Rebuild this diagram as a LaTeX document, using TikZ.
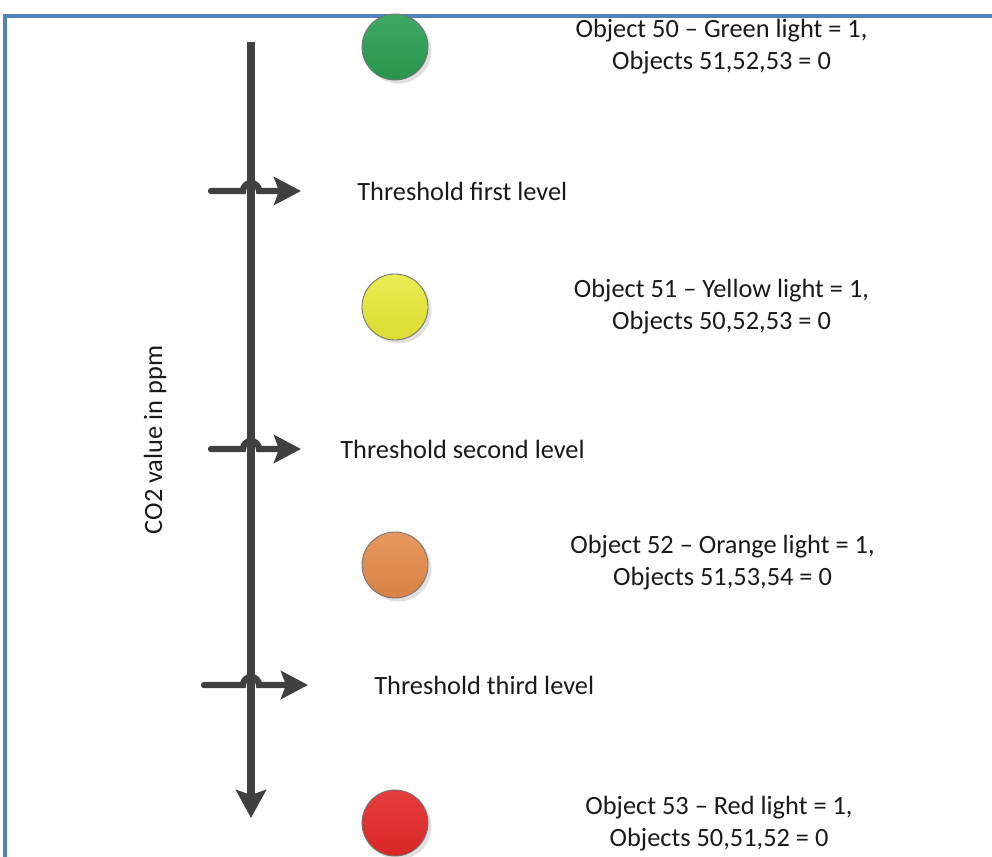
\documentclass[tikz,border=0pt]{standalone}
\usepackage{fontspec}
\setmainfont{Carlito}
\usetikzlibrary{arrows.meta,positioning}

\begin{document}
\begin{tikzpicture}
    % Define colors
    \definecolor{framecolor}{RGB}{79, 129, 189}
    \definecolor{axiscolor}{RGB}{64, 64, 64}
    \definecolor{greenlight}{RGB}{42, 160, 82}
    \definecolor{yellowlight}{RGB}{230, 232, 52}
    \definecolor{orangelight}{RGB}{228, 137, 72}
    \definecolor{redlight}{RGB}{228, 40, 40}
    \definecolor{textcolor}{RGB}{25, 25, 25}

    % Define styles
    \tikzset{
        axisline/.style={line width=4pt, axiscolor, -{Stealth[length=0.56cm, width=0.6cm, inset=0.1cm]}},
        hopline/.style={line width=3.6pt, axiscolor, line cap=round, -{Stealth[length=0.54cm, width=0.56cm, inset=0.1cm]}},
        lamp/.style={circle, minimum size=1.32cm, inner sep=0pt, draw=black!55, line width=0.5pt},
        lampshadow/.style={circle, minimum size=1.32cm, inner sep=0pt, fill=black!12},
        objtext/.style={align=center, text=textcolor, font=\fontsize{15}{18.2}\selectfont},
        leveltext/.style={anchor=west, inner sep=0pt, text=textcolor, font=\fontsize{15}{18.2}\selectfont}
    }

    % Fix the picture size
    \useasboundingbox (0, 0) rectangle (19.84, -17.12);

    % Frame (open on the right and bottom)
    \draw[framecolor, line width=2pt] (0.1, -17.2) -- (0.1, -0.32) -- (19.9, -0.32);

    % Define x-coordinates
    \def\xaxis{5.02}
    \def\xlamp{7.9}
    \def\xtext{14.43}

    % Define y-coordinates for each level
    \def\ygreen{-0.94}
    \def\yfirst{-3.82}
    \def\yyellow{-6.14}
    \def\ysecond{-8.98}
    \def\yorange{-11.3}
    \def\ythird{-13.70}
    \def\yred{-16.46}

    % Axis end points
    \coordinate (axistop) at (\xaxis, -0.84);
    \coordinate (axisbot) at (\xaxis, -16.36);

    % Threshold arrow end points and crossings
    \coordinate (firstL) at (4.22, \yfirst);
    \coordinate (firstX) at (\xaxis, \yfirst);
    \coordinate (firstR) at (6.02, \yfirst);
    \coordinate (secondL) at (4.22, \ysecond);
    \coordinate (secondX) at (\xaxis, \ysecond);
    \coordinate (secondR) at (6.02, \ysecond);
    \coordinate (thirdL) at (4.08, \ythird);
    \coordinate (thirdX) at (\xaxis, \ythird);
    \coordinate (thirdR) at (6.16, \ythird);

    % Draw the CO2 axis
    \draw[axisline] (axistop) -- (axisbot);
    \node[rotate=90, text=textcolor, font=\fontsize{15}{18}\selectfont] (axislabel) at (3.1, -8.8) {CO2 value in ppm};

    % Draw the threshold arrows (hopping over the axis)
    \draw[hopline] (firstL) -- ([xshift=-0.16cm]firstX) arc[start angle=180, end angle=0, radius=0.16cm] -- (firstR);
    \draw[hopline] (secondL) -- ([xshift=-0.16cm]secondX) arc[start angle=180, end angle=0, radius=0.16cm] -- (secondR);
    \draw[hopline] (thirdL) -- ([xshift=-0.16cm]thirdX) arc[start angle=180, end angle=0, radius=0.16cm] -- (thirdR);

    % Threshold labels
    \node[leveltext] (firstlabel) at (7.14, \yfirst) {Threshold first level};
    \node[leveltext] (secondlabel) at (6.8, \ysecond) {Threshold second level};
    \node[leveltext] (thirdlabel) at (7.48, \ythird) {Threshold third level};

    % Draw the lights (shadow first)
    \node[lampshadow] at (\xlamp+0.07, \ygreen-0.07) {};
    \node[lampshadow] at (\xlamp+0.07, \yyellow-0.07) {};
    \node[lampshadow] at (\xlamp+0.07, \yorange-0.07) {};
    \node[lampshadow] at (\xlamp+0.07, \yred-0.07) {};
    \node[lamp, top color=greenlight!90!white, bottom color=greenlight!92!black] (greenlamp) at (\xlamp, \ygreen) {};
    \node[lamp, top color=yellowlight!85!white, bottom color=yellowlight!95!black] (yellowlamp) at (\xlamp, \yyellow) {};
    \node[lamp, top color=orangelight!88!white, bottom color=orangelight!95!black] (orangelamp) at (\xlamp, \yorange) {};
    \node[lamp, top color=redlight!90!white, bottom color=redlight!95!black] (redlamp) at (\xlamp, \yred) {};

    % Object labels
    \node[objtext] (greentext) at (\xtext, -0.93) {Object 50 -- Green light = 1,\\Objects 51,52,53 = 0};
    \node[objtext] (yellowtext) at (\xtext, -6.14) {Object 51 -- Yellow light = 1,\\Objects 50,52,53 = 0};
    \node[objtext] (orangetext) at (\xtext+0.02, -11.26) {Object 52 -- Orange light = 1,\\Objects 51,53,54 = 0};
    \node[objtext] (redtext) at (\xtext-0.05, -16.48) {Object 53 -- Red light = 1,\\Objects 50,51,52 = 0};

\end{tikzpicture}
\end{document}
